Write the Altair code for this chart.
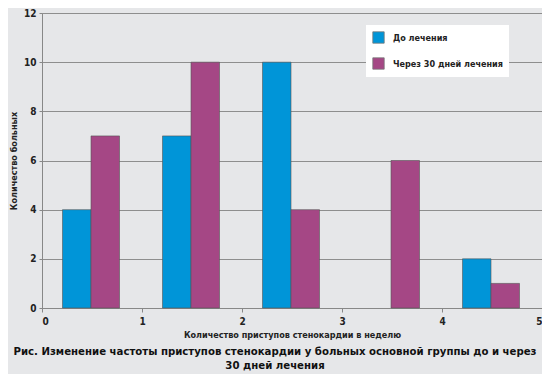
import altair as alt
import pandas as pd

groups = [0, 1, 2, 3, 4]
series_names = ["До лечения", "Через 30 дней лечения"]
before = [4, 7, 10, 0, 2]
after = [7, 10, 4, 6, 1]
x_ticks = [0, 1, 2, 3, 4, 5]
y_ticks = [0, 2, 4, 6, 8, 10, 12]
colors = ["#0095d8", "#a54785"]

caption = ["Рис. Изменение частоты приступов стенокардии у больных основной группы до и через",
           "30 дней лечения"]

rows = []
for g, b, a in zip(groups, before, after):
    rows.append({"k": g, "series": series_names[0], "order": 0, "value": b})
    rows.append({"k": g, "series": series_names[1], "order": 1, "value": a})
df = pd.DataFrame(rows)

FONT = "Liberation Sans Narrow, DejaVu Sans Condensed, Roboto, sans-serif"
BG = "#e6e7e9"

bars = alt.Chart(df).transform_calculate(
    x0="datum.k + 0.205 + datum.order * 0.285",
    x1="datum.k + 0.49 + datum.order * 0.285",
).transform_filter("datum.value > 0").mark_bar(stroke="#555555", strokeWidth=0.6).encode(
    x=alt.X("x0:Q", scale=alt.Scale(domain=[0, 5], nice=False, zero=True),
            axis=alt.Axis(values=x_ticks, format="d", title="Количество приступов стенокардии в неделю",
                          grid=False, domainColor="#888888", tickColor="#888888", tickSize=4,
                          labelFont=FONT, labelFontSize=10, labelFontWeight="bold", labelColor="#222222",
                          labelPadding=4,
                          titleFont=FONT, titleFontSize=9, titleFontWeight="bold", titleColor="#222222",
                          titlePadding=4)),
    x2="x1:Q",
    y=alt.Y("value:Q", scale=alt.Scale(domain=[0, 12], nice=False),
            axis=alt.Axis(values=y_ticks, title="Количество больных", grid=True,
                          gridColor="#8e8e8e", gridWidth=1, domainColor="#888888",
                          tickColor="#888888", tickSize=3,
                          labelFont=FONT, labelFontSize=10, labelFontWeight="bold", labelColor="#222222",
                          labelPadding=3,
                          titleFont=FONT, titleFontSize=9, titleFontWeight="bold", titleColor="#222222",
                          titlePadding=5)),
    y2=alt.datum(0),
    color=alt.Color("series:N", sort=series_names,
                    scale=alt.Scale(domain=series_names, range=colors),
                    legend=alt.Legend(orient="none", legendX=324, legendY=12, title=None,
                                      fillColor="white", padding=6, symbolType="square",
                                      symbolSize=130, symbolStrokeColor="#777777", symbolStrokeWidth=0.8,
                                      symbolOpacity=1, labelFont=FONT, labelFontSize=9,
                                      labelFontWeight="bold", labelColor="#222222", labelOffset=8,
                                      rowPadding=11, labelLimit=200)),
)

chart = bars.properties(
    width=500, height=295,
    autosize=alt.AutoSizeParams(type="none"),
    padding={"left": 34, "top": 5, "right": 0, "bottom": 66},
    background=BG,
    title=alt.TitleParams(text=caption, orient="bottom", anchor="middle", font=FONT,
                          fontSize=11.3, fontWeight="bold", color="#111111", offset=7,
                          lineHeight=14, dx=-17),
).configure_view(stroke="#999999", strokeWidth=1, fill=BG)

chart.save("out.html", embed_options={"renderer": "svg", "actions": False})
